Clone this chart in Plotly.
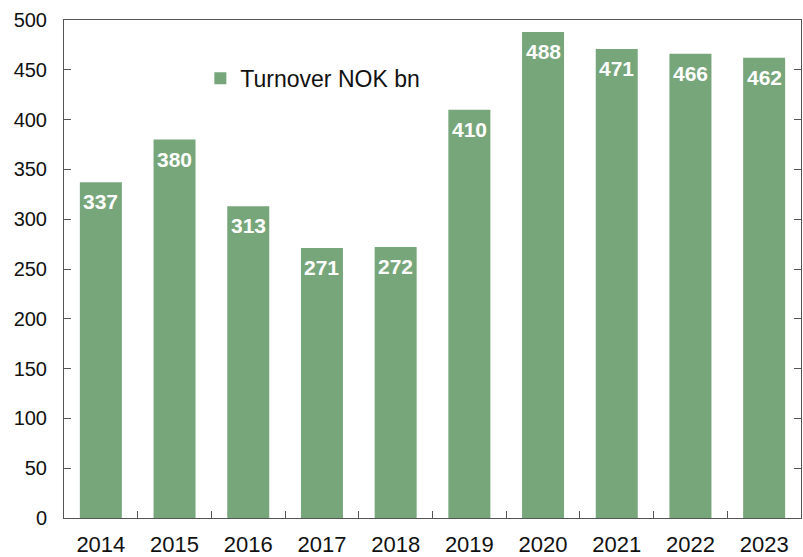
import plotly.graph_objects as go

years = ["2014", "2015", "2016", "2017", "2018", "2019", "2020", "2021", "2022", "2023"]
turnover = [337, 380, 313, 271, 272, 410, 488, 471, 466, 462]
series_name = "Turnover NOK bn"

bar_color = "#77A67B"
axis_color = "#555555"
font_family = "Liberation Sans, Arial, sans-serif"

fig = go.Figure()
fig.add_trace(go.Bar(
    x=years, y=turnover, name=series_name,
    marker=dict(color=bar_color, line=dict(width=0)),
    width=0.57,
    showlegend=True,
))

for i, v in enumerate(turnover):
    fig.add_annotation(
        x=i, y=v, xref="x", yref="y", text=f"<b>{v}</b>", showarrow=False,
        yanchor="top", xanchor="center", yshift=-6,
        font=dict(color="white", size=21, family=font_family),
    )

fig.update_layout(
    width=803, height=557,
    margin=dict(l=64, r=2, t=20, b=39, autoexpand=False),
    paper_bgcolor="white", plot_bgcolor="white",
    font=dict(family=font_family, color="#111111"),
    showlegend=True,
    legend=dict(x=0.185, y=0.883, xanchor="left", yanchor="middle",
                font=dict(size=23, family=font_family, color="#111111"),
                bgcolor="rgba(0,0,0,0)", itemwidth=30),
)
fig.update_xaxes(
    type="category", automargin=False, range=[-0.5, len(years) - 0.5],
    showline=True, linecolor=axis_color, linewidth=1, mirror=True,
    ticks="inside", tickson="boundaries", ticklen=7, tickcolor=axis_color,
    tickfont=dict(size=22, family=font_family, color="#111111"),
    showgrid=False, ticklabelstandoff=7,
)
fig.update_yaxes(
    range=[0, 500], tickvals=[0, 50, 100, 150, 200, 250, 300, 350, 400, 450, 500],
    automargin=False,
    showline=True, linecolor=axis_color, linewidth=1, mirror="ticks",
    ticks="inside", ticklen=7, tickcolor=axis_color,
    tickfont=dict(size=20, family=font_family, color="#111111"),
    showgrid=False, zeroline=False, ticklabelstandoff=12,
)

fig.write_html("out.html", config={"displayModeBar": False},
               post_script="document.body.style.margin='0';")
